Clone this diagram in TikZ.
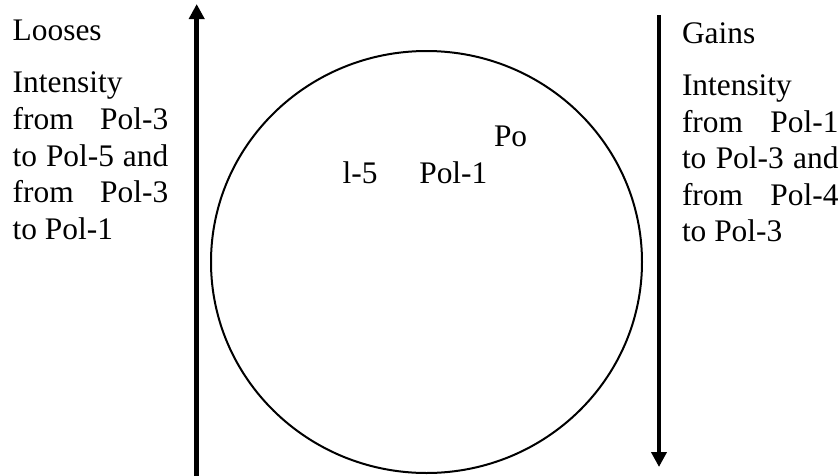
\documentclass[tikz,border=0pt]{standalone}
\usepackage{fontspec}
\setmainfont{Liberation Serif}
\usetikzlibrary{arrows.meta,shapes.geometric}
\begin{document}
\begin{tikzpicture}[x=1pt,y=-1pt,
  txt/.style={anchor=base west,inner sep=0pt,outer sep=0pt,font=\fontsize{31.4}{36.6}\selectfont},
  bigarrow/.style={line width=4.5pt,-{Triangle[width=15pt,length=15pt]}},
  ring/.style={ellipse,draw,line width=2pt,inner sep=0pt,minimum width=431pt,minimum height=422pt}]
\useasboundingbox (0,0) rectangle (839,475);
% circle
\node[ring] (circ) at (426.5,262) {};
% arrows
\coordinate (lb) at (196.7,476);
\coordinate (lt) at (196.7,4);
\draw[bigarrow] (lb) -- (lt);
\coordinate (rt) at (659,15);
\coordinate (rb) at (659,467);
\draw[bigarrow] (rt) -- (rb);
% left text
\node[txt] (l0) at (12.7,40) {Looses};
\node[txt] (l1) at (12.7,92.7) {Intensity};
\node[txt] (l2) at (12.7,129.5) {\makebox[155.6pt][s]{from\hfill Pol-3}};
\node[txt] (l3) at (12.7,166.1) {\makebox[155.6pt][s]{to Pol-5 and}};
\node[txt] (l4) at (12.7,202.7) {\makebox[155.6pt][s]{from\hfill Pol-3}};
\node[txt] (l5) at (12.7,239.3) {to Pol-1};
% right text
\node[txt] (r0) at (682,43) {Gains};
\node[txt] (r1) at (682,95.5) {Intensity};
\node[txt] (r2) at (682,132.1) {\makebox[156.5pt][s]{from\hfill Pol-1}};
\node[txt] (r3) at (682,168.7) {\makebox[156.5pt][s]{to Pol-3 and}};
\node[txt] (r4) at (682,205.3) {\makebox[156.5pt][s]{from\hfill Pol-4}};
\node[txt] (r5) at (682,241.9) {to Pol-3};
% inner labels
\node[txt] (c1) at (342.7,183.3) {l-5};
\node[txt] (c2) at (419.3,183.3) {Pol-1};
\node[txt] (c3) at (494,146.7) {Po};
\end{tikzpicture}
\end{document}
